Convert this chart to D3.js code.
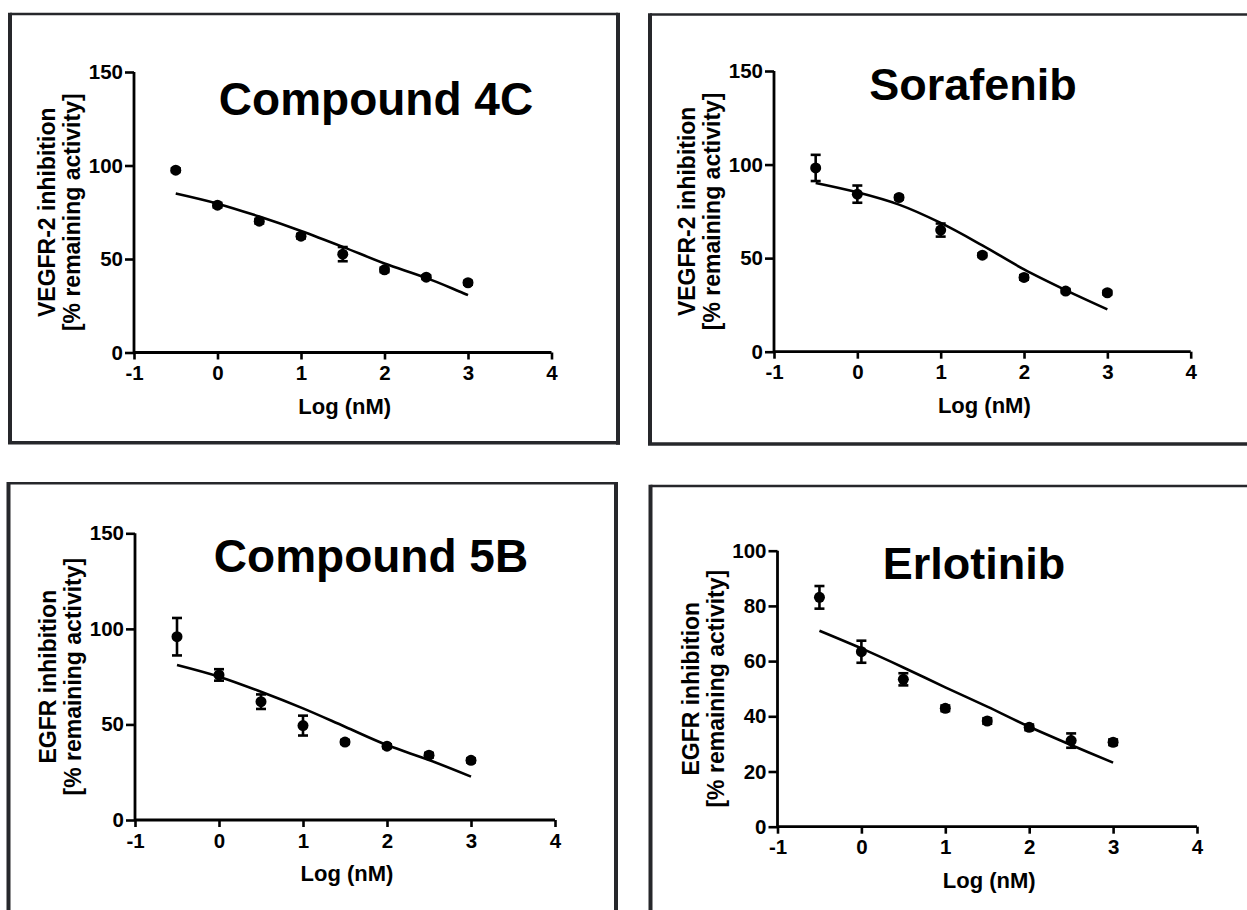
<!DOCTYPE html>
<html>
<head>
<meta charset="utf-8">
<script src="https://cdn.jsdelivr.net/npm/d3@7/dist/d3.min.js"></script>
<style>
  html, body { margin: 0; padding: 0; background: #fff; }
  svg { display: block; }
  text { font-family: "Liberation Sans", Arial, Helvetica, sans-serif; font-weight: bold; fill: #000; }
</style>
</head>
<body>
<svg id="chart" width="1247" height="910"></svg>
<script>
// Log concentration (nM) at which each assay point was measured
const doseLog = [-0.5, 0, 0.5, 1, 1.5, 2, 2.5, 3];
const xTicks = [-1, 0, 1, 2, 3, 4];

// Compound 4C — VEGFR-2
const c4cMean = [97.5, 78.8, 70.2, 62.2, 52.6, 44.2, 40.3, 37.3];
const c4cErr  = [1.0, 1.2, 1.2, 1.2, 3.8, 1.2, 1.0, 1.0];
const c4cFit  = [85.0, 79.6, 72.7, 65.0, 56.5, 47.6, 39.9, 30.7];

// Sorafenib — VEGFR-2
const sorMean = [98.2, 84.2, 82.4, 65.0, 51.6, 39.7, 32.4, 31.5];
const sorErr  = [7.0, 4.6, 1.0, 3.5, 1.0, 1.2, 1.0, 1.0];
const sorFit  = [90.2, 85.2, 78.6, 68.8, 56.8, 44.0, 32.9, 22.6];

// Compound 5B — EGFR
const c5bMean = [95.9, 75.9, 61.9, 49.4, 40.8, 38.6, 33.9, 31.2];
const c5bErr  = [9.8, 3.0, 3.8, 5.2, 1.0, 1.0, 1.2, 1.0];
const c5bFit  = [81.1, 75.0, 67.1, 58.4, 48.8, 39.2, 31.4, 22.7];

// Erlotinib — EGFR
const erlMean = [83.1, 63.4, 53.4, 42.9, 38.3, 36.0, 31.2, 30.6];
const erlErr  = [4.1, 4.0, 2.2, 1.0, 1.0, 1.0, 2.6, 1.0];
const erlFit  = [71.0, 64.6, 57.7, 50.5, 43.5, 36.2, 29.6, 23.2];

const ticks150 = [0, 50, 100, 150];
const ticks100 = [0, 20, 40, 60, 80, 100];

const panels = [
  { title: "Compound 4C", titleSize: 46, titleX: 376, titleY: 115,
    yLabel: "VEGFR-2 inhibition", mean: c4cMean, err: c4cErr, fit: c4cFit,
    yMax: 150, yTicks: ticks150,
    xRange: [134, 551.5], yRange: [352.5, 72],
    frame: { l: 10, t: 14, r: 618, b: 442.7 } },
  { title: "Sorafenib", titleSize: 45, titleX: 973, titleY: 100,
    yLabel: "VEGFR-2 inhibition", mean: sorMean, err: sorErr, fit: sorFit,
    yMax: 150, yTicks: ticks150,
    xRange: [774, 1190.7], yRange: [351.7, 71],
    frame: { l: 650, t: 14.5, r: 1260, b: 444 } },
  { title: "Compound 5B", titleSize: 46, titleX: 371, titleY: 572,
    yLabel: "EGFR inhibition", mean: c5bMean, err: c5bErr, fit: c5bFit,
    yMax: 150, yTicks: ticks150,
    xRange: [135, 555], yRange: [820, 533.3],
    frame: { l: 8.5, t: 483.3, r: 616, b: 930 } },
  { title: "Erlotinib", titleSize: 45, titleX: 974, titleY: 579,
    yLabel: "EGFR inhibition", mean: erlMean, err: erlErr, fit: erlFit,
    yMax: 100, yTicks: ticks100,
    xRange: [777.5, 1197], yRange: [826.7, 550.7],
    frame: { l: 650.5, t: 486, r: 1260, b: 930 } }
];

const svg = d3.select("#chart");
// plain hyphen for negative tick values
const tickText = d => String(d);

panels.forEach(p => {
  const g = svg.append("g");
  const x = d3.scaleLinear().domain([-1, 4]).range(p.xRange);
  const y = d3.scaleLinear().domain([0, p.yMax]).range(p.yRange);
  const f = p.frame;

  // panel frame: thin top edge, heavier sides and bottom
  const frameColor = "#26272b";
  g.append("line").attr("x1", f.l).attr("x2", f.r).attr("y1", f.t).attr("y2", f.t)
    .attr("stroke", frameColor).attr("stroke-width", 2.5);
  g.append("line").attr("x1", f.l).attr("x2", f.l).attr("y1", f.t - 1.2).attr("y2", f.b)
    .attr("stroke", frameColor).attr("stroke-width", 4);
  g.append("line").attr("x1", f.r).attr("x2", f.r).attr("y1", f.t - 1.2).attr("y2", f.b + 2)
    .attr("stroke", frameColor).attr("stroke-width", 4);
  g.append("line").attr("x1", f.l - 2).attr("x2", f.r + 2).attr("y1", f.b).attr("y2", f.b)
    .attr("stroke", frameColor).attr("stroke-width", 3.6);

  // axes
  const xAxis = d3.axisBottom(x).tickValues(xTicks).tickSize(7).tickPadding(6)
    .tickFormat(tickText);
  const yAxis = d3.axisLeft(y).tickValues(p.yTicks).tickSize(9).tickPadding(2)
    .tickFormat(tickText);

  const gx = g.append("g").attr("transform", `translate(0,${p.yRange[0]})`).call(xAxis);
  const gy = g.append("g").attr("transform", `translate(${p.xRange[0]},0)`).call(yAxis);
  [gx, gy].forEach(a => {
    a.select(".domain").attr("stroke", "#000").attr("stroke-width", 2.8);
    a.selectAll(".tick line").attr("stroke", "#000").attr("stroke-width", 2.6);
    a.selectAll(".tick text").attr("font-size", 20.5).attr("fill", "#000")
      .style("font-family", "'Liberation Sans', Arial, sans-serif").style("font-weight", "bold");
  });
  gx.select(".domain").attr("d", `M${p.xRange[0]},0H${p.xRange[1]}`);
  gy.select(".domain").attr("d", `M0,${p.yRange[0]}V${p.yRange[1]}`);

  // axis titles
  const xMid = (p.xRange[0] + p.xRange[1]) / 2;
  g.append("text").attr("x", xMid + 2).attr("y", p.yRange[0] + 61)
    .attr("text-anchor", "middle").attr("font-size", 22).text("Log (nM)");

  const yMid = (p.yRange[0] + p.yRange[1]) / 2;
  g.append("text")
    .attr("transform", `translate(${p.xRange[0] - 79},${yMid}) rotate(-90)`)
    .attr("text-anchor", "middle").attr("font-size", 23).text(p.yLabel);
  g.append("text")
    .attr("transform", `translate(${p.xRange[0] - 54},${yMid}) rotate(-90)`)
    .attr("text-anchor", "middle").attr("font-size", 23).text("[% remaining activity]");

  // title
  g.append("text").attr("x", p.titleX).attr("y", p.titleY)
    .attr("text-anchor", "middle").attr("font-size", p.titleSize).text(p.title);

  // fitted dose-response curve
  const line = d3.line().x((d, i) => x(doseLog[i])).y(d => y(d)).curve(d3.curveCatmullRom.alpha(0.5));
  g.append("path").datum(p.fit).attr("d", line)
    .attr("fill", "none").attr("stroke", "#000").attr("stroke-width", 2.6);

  // error bars
  const cap = 5;
  const eb = g.append("g").attr("stroke", "#000").attr("stroke-width", 2.6);
  p.mean.forEach((m, i) => {
    const cx = x(doseLog[i]);
    const y1 = y(m + p.err[i]), y2 = y(m - p.err[i]);
    eb.append("line").attr("x1", cx).attr("x2", cx).attr("y1", y1).attr("y2", y2);
    eb.append("line").attr("x1", cx - cap).attr("x2", cx + cap).attr("y1", y1).attr("y2", y1);
    eb.append("line").attr("x1", cx - cap).attr("x2", cx + cap).attr("y1", y2).attr("y2", y2);
  });

  // mean points
  g.append("g").selectAll("circle").data(p.mean).join("circle")
    .attr("cx", (d, i) => x(doseLog[i])).attr("cy", d => y(d))
    .attr("r", 5.5).attr("fill", "#000");
});
</script>
</body>
</html>
